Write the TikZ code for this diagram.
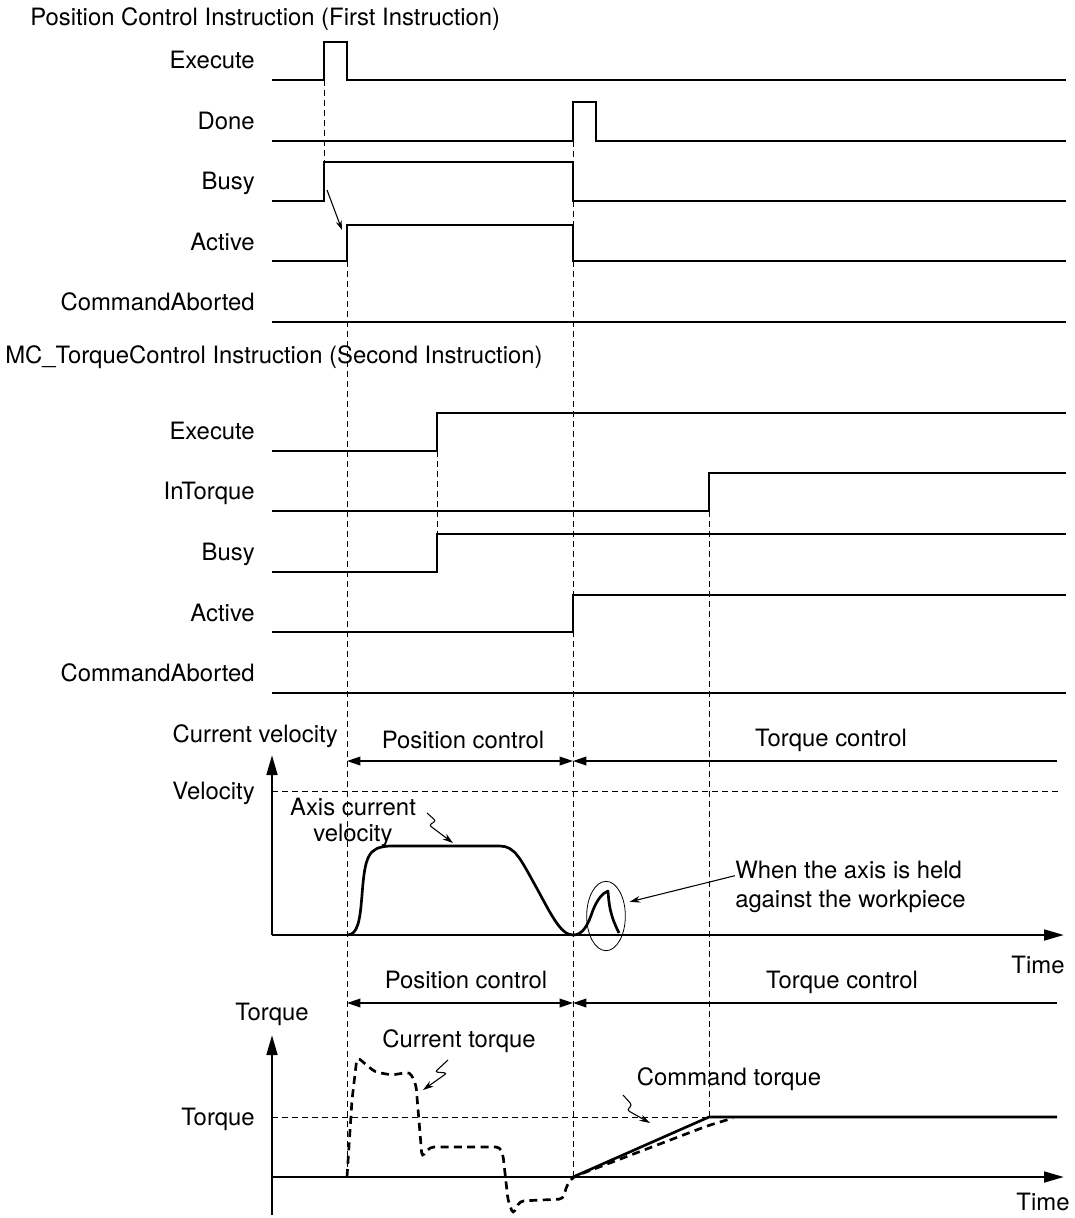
\documentclass[tikz,border=0pt]{standalone}
\usepackage{fontspec}
\setmainfont{TeX Gyre Heros}
\usetikzlibrary{positioning, arrows.meta, shapes.geometric}

\newcommand{\chartfont}{\fontsize{17.9}{21.5}\selectfont}

\begin{document}
\begin{tikzpicture}[
  x={(0.75pt,0)}, y={(0,-0.75pt)},
  >={Triangle[length=10pt, width=6.5pt]},
  sig/.style={line width=2pt},
  guide/.style={line width=0.6pt, dash pattern=on 4.5pt off 3pt},
  lbl/.style={anchor=base east, inner sep=0pt, font=\chartfont},
  txt/.style={anchor=base, inner sep=0pt, font=\chartfont},
  phase/.style={line width=1.1pt},
  axisarr/.style={line width=2pt, -{Triangle[length=15pt, width=8pt]}},
  lead/.style={line width=0.8pt, rounded corners=2pt, -{Stealth[length=8pt, width=5pt]}},
  curtrq/.style={line width=2pt, dash pattern=on 6pt off 4pt, rounded corners=3pt}
]
  \useasboundingbox (0,0) rectangle (1075,1218);

  % first instruction
  \node[anchor=base west, inner sep=0pt, font=\chartfont] (ttlpos) at (30,25)
    {Position Control Instruction (First Instruction)};
  \node[lbl] (pexec)  at (255,68)  {Execute};
  \node[lbl] (pdone)  at (255,129) {Done};
  \node[lbl] (pbusy)  at (255,189) {Busy};
  \node[lbl] (pact)   at (255,250) {Active};
  \node[lbl] (pabort) at (255,310) {CommandAborted};

  \draw[sig] (272,80) -- (324,80) -- (324,42) -- (347,42) -- (347,80) -- (1066,80);
  \draw[sig] (272,141) -- (573,141) -- (573,102) -- (596,102) -- (596,141) -- (1066,141);
  \draw[sig] (272,201) -- (324,201) -- (324,162) -- (573,162) -- (573,201) -- (1066,201);
  \draw[sig] (272,261) -- (347,261) -- (347,225) -- (573,225) -- (573,261) -- (1066,261);
  \draw[sig] (272,322) -- (1066,322);

  \coordinate (busyrise) at (327,190);
  \coordinate (actrise)  at (342,230);
  \draw[line width=0.8pt, -{Stealth[length=7pt, width=4.5pt]}] (busyrise) -- (actrise);

  % second instruction
  \node[anchor=base west, inner sep=0pt, font=\chartfont] (ttltrq) at (5,363)
    {MC\_TorqueControl Instruction (Second Instruction)};
  \node[lbl] (texec)  at (255,439) {Execute};
  \node[lbl] (tintrq) at (255,499) {InTorque};
  \node[lbl] (tbusy)  at (255,560) {Busy};
  \node[lbl] (tact)   at (255,621) {Active};
  \node[lbl] (tabort) at (255,681) {CommandAborted};

  \draw[sig] (272,451) -- (437,451) -- (437,413) -- (1066,413);
  \draw[sig] (272,511) -- (709,511) -- (709,473) -- (1066,473);
  \draw[sig] (272,572) -- (437,572) -- (437,534) -- (1066,534);
  \draw[sig] (272,632) -- (573,632) -- (573,595) -- (1066,595);
  \draw[sig] (272,693) -- (1066,693);

  % timing guides
  \draw[guide] (324,80) -- (324,162);
  \draw[guide] (347,261) -- (347,1177);
  \draw[guide] (573,141) -- (573,1177);
  \draw[guide] (437,451) -- (437,534);
  \draw[guide] (709,511) -- (709,1117);

  % velocity chart
  \coordinate (vorg) at (272,935);
  \node[lbl] (vname) at (338,742) {Current velocity};
  \node[lbl] (vlevel) at (255,799) {Velocity};
  \node[txt] (vtime) at (1038,973) {Time};
  \node[txt] (vpos) at (463,748) {Position control};
  \node[txt] (vtrq) at (831,746) {Torque control};

  \draw[axisarr] (vorg) -- (272,755);
  \draw[axisarr] (vorg) -- (1064,935);
  \draw[guide] (272,791) -- (1060,791);
  \draw[phase, <->] (347,761) -- (573,761);
  \draw[phase, <-] (573,761) -- (1057,761);

  \draw[sig, line join=round] (347,935) .. controls (358,935) and (360,920) .. (362,895)
    .. controls (365,856) and (368,847) .. (390,846) -- (500,846)
    .. controls (515,846) and (521,860) .. (535,885)
    .. controls (550,912) and (560,935) .. (573,935)
    .. controls (583,935) and (588,925) .. (593,910)
    .. controls (598,898) and (603,893) .. (608,891)
    .. controls (609,905) and (610,915) .. (619,933);

  \node[align=center, anchor=north, inner sep=0pt, font=\fontsize{17.9}{19}\selectfont]
    (vaxis) at (353,798) {Axis current\\velocity};
  \coordinate (vcurve) at (453,843);
  \draw[lead] (427,813) -- (436,821) -- (429,825) -- (vcurve);

  \node[draw, ellipse, line width=0.6pt, inner sep=0pt,
        minimum width=29pt, minimum height=52pt] (bump) at (606,916) {};
  \node[align=left, anchor=north west, inner sep=0pt, font=\chartfont]
    (hold) at (735,861) {When the axis is held\\against the workpiece};
  \draw[line width=0.8pt, -{Stealth[length=8pt, width=5pt]}, shorten >=4pt]
    ([yshift=-11pt]hold.north west) -- (bump.35);

  % torque chart
  \coordinate (qorg) at (272,1177);
  \node[txt] (qname) at (272,1020) {Torque};
  \node[lbl] (qlevel) at (255,1125) {Torque};
  \node[txt] (qtime) at (1043,1210) {Time};
  \node[txt] (qpos) at (466,988) {Position control};
  \node[txt] (qtrq) at (842,988) {Torque control};
  \node[txt] (qcur) at (459,1047) {Current torque};
  \node[txt] (qcmd) at (729,1085) {Command torque};

  \draw[line width=2pt] (272,1215) -- (qorg);
  \draw[axisarr] (qorg) -- (272,1035);
  \draw[axisarr] (qorg) -- (1064,1177);
  \draw[guide] (272,1117) -- (709,1117);
  \draw[phase, <->] (347,1003) -- (573,1003);
  \draw[phase, <-] (573,1003) -- (1057,1003);

  \draw[sig] (573,1177) -- (709,1117) -- (1057,1117);
  \draw[curtrq] (347,1177) -- (352,1100) -- (357,1057) -- (375,1072) -- (392,1075)
    -- (410,1072) -- (416,1085) -- (422,1157) -- (430,1147) -- (500,1147)
    -- (503,1155) -- (508,1200) -- (513,1214) -- (520,1201) -- (563,1199)
    -- (567,1185) -- (573,1177) -- (707,1126) -- (733,1118);

  \coordinate (qcurtip) at (423,1090);
  \draw[lead] (448,1060) -- (435,1072) -- (447,1073) -- (qcurtip);
  \coordinate (qcmdtip) at (650,1123);
  \draw[lead] (623,1095) -- (632,1105) -- (627,1110) -- (qcmdtip);
\end{tikzpicture}
\end{document}
